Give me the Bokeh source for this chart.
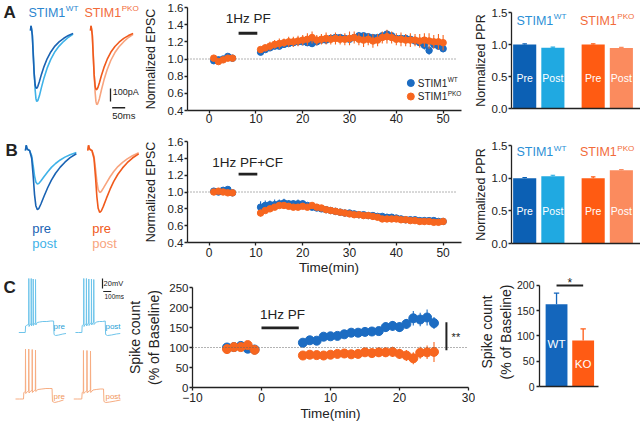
from bokeh.plotting import figure
from bokeh.layouts import row, column
from bokeh.models import Range1d, Label, Span, FixedTicker, PrintfTickFormatter
from bokeh.embed import file_html
from bokeh.resources import INLINE

FONT = "Liberation Sans"
INK = "#222222"
BLUE = "#1c6cc2"
ORANGE = "#f7661f"
WT_PRE = "#0c60b4"
WT_POST = "#20a9e1"
KO_PRE = "#ff5b12"
KO_POST = "#fb8b5e"
TR_BLUE_D = "#1a63b3"
TR_BLUE_L = "#3fb2e8"
TR_OR_D = "#f05a1c"
TR_OR_L = "#f8a47e"

# ======================= DATA =======================
# A: example EPSC traces (ms, pA)
epsc_a_t = [0, 2, 4, 7, 10, 14, 18, 21, 24, 28, 34, 42, 52, 64, 78, 94, 110, 128, 146, 164]
epsc_a_wt_pre = [0, 35, 12, -40, -170, -330, -420, -442, -446, -432, -395, -338, -278, -218, -165, -120, -88, -60, -38, -22]
epsc_a_wt_post = [0, 35, 12, -30, -140, -320, -460, -525, -546, -540, -505, -440, -365, -290, -222, -163, -120, -83, -52, -28]
epsc_a_ko_pre = [0, 35, 12, -40, -175, -340, -430, -452, -456, -442, -404, -346, -284, -223, -168, -123, -90, -61, -39, -22]
epsc_a_ko_post = [0, 35, 12, -32, -150, -335, -480, -548, -571, -563, -527, -458, -380, -302, -231, -170, -125, -86, -54, -29]

# B: example EPSC traces (ms, pA)
epsc_b_t = [0, 3, 6, 10, 16, 24, 30, 35, 40, 46, 52, 60, 72, 86, 100, 116, 134, 152, 172, 196]
epsc_b_wt_pre = [0, 40, 15, 5, 0, -60, -200, -340, -425, -456, -445, -410, -350, -285, -228, -175, -128, -90, -55, -25]
epsc_b_wt_post = [0, 40, 15, 5, 0, -40, -120, -195, -242, -259, -253, -233, -200, -163, -130, -100, -73, -51, -32, -15]
epsc_b_ko_pre = [0, 40, 15, 5, 0, -62, -210, -355, -445, -477, -466, -430, -367, -298, -238, -183, -134, -94, -58, -26]
epsc_b_ko_post = [0, 40, 15, 5, 0, -45, -145, -240, -302, -323, -316, -290, -249, -202, -162, -124, -91, -64, -40, -18]

# A/B: normalized EPSC time course (min)
tc_base_t = [1, 2, 3, 4, 5]
tc_post_t = list(range(11, 51))
a_wt_base = [0.98, 0.99, 1.00, 1.03, 1.01]
a_wt_base_err = [0.02, 0.02, 0.02, 0.02, 0.02]
a_ko_base = [1.01, 0.97, 0.99, 1.01, 1.01]
a_ko_base_err = [0.02, 0.03, 0.02, 0.02, 0.02]
a_wt_post = [1.08, 1.11, 1.13, 1.15, 1.15, 1.17, 1.18, 1.19, 1.20, 1.20,
             1.19, 1.18, 1.20, 1.22, 1.22, 1.24, 1.25, 1.25, 1.24, 1.23,
             1.25, 1.27, 1.27, 1.26, 1.25, 1.25, 1.27, 1.29, 1.27, 1.24,
             1.24, 1.24, 1.23, 1.21, 1.19, 1.16, 1.10, 1.17, 1.15, 1.12]
a_wt_post_err = [0.03, 0.03, 0.03, 0.03, 0.03, 0.03, 0.03, 0.03, 0.03, 0.03,
                 0.03, 0.04, 0.03, 0.03, 0.04, 0.03, 0.03, 0.04, 0.04, 0.03,
                 0.04, 0.04, 0.03, 0.03, 0.04, 0.04, 0.03, 0.04, 0.04, 0.03,
                 0.04, 0.04, 0.03, 0.04, 0.04, 0.05, 0.05, 0.04, 0.04, 0.04]
a_ko_post = [1.11, 1.13, 1.15, 1.17, 1.18, 1.19, 1.20, 1.20, 1.21, 1.22,
             1.23, 1.25, 1.22, 1.23, 1.24, 1.23, 1.24, 1.23, 1.23, 1.24,
             1.25, 1.23, 1.22, 1.23, 1.21, 1.22, 1.25, 1.26, 1.25, 1.23,
             1.23, 1.22, 1.22, 1.22, 1.21, 1.22, 1.21, 1.20, 1.20, 1.19]
a_ko_post_err = [0.03, 0.04, 0.05, 0.05, 0.06, 0.05, 0.06, 0.06, 0.06, 0.06,
                 0.07, 0.07, 0.06, 0.06, 0.07, 0.06, 0.07, 0.06, 0.07, 0.08,
                 0.07, 0.07, 0.08, 0.07, 0.08, 0.07, 0.07, 0.08, 0.07, 0.07,
                 0.08, 0.07, 0.08, 0.07, 0.08, 0.08, 0.09, 0.08, 0.09, 0.09]

b_wt_base = [1.01, 1.00, 1.02, 1.03, 0.99]
b_wt_base_err = [0.02, 0.02, 0.02, 0.02, 0.02]
b_ko_base = [1.00, 1.01, 1.00, 0.99, 0.99]
b_ko_base_err = [0.02, 0.02, 0.02, 0.02, 0.02]
b_wt_post = [0.82, 0.84, 0.85, 0.85, 0.86, 0.87, 0.86, 0.86, 0.86, 0.86,
             0.84, 0.82, 0.81, 0.80, 0.79, 0.78, 0.77, 0.76, 0.75, 0.75,
             0.74, 0.73, 0.73, 0.72, 0.72, 0.71, 0.71, 0.70, 0.70, 0.69,
             0.68, 0.67, 0.67, 0.67, 0.66, 0.66, 0.66, 0.66, 0.65, 0.65]
b_wt_post_err = [0.07, 0.06, 0.05, 0.06, 0.05, 0.05, 0.04, 0.04, 0.05, 0.04,
                 0.03, 0.03, 0.03, 0.03, 0.03, 0.03, 0.03, 0.03, 0.03, 0.03,
                 0.03, 0.02, 0.03, 0.02, 0.03, 0.02, 0.02, 0.02, 0.02, 0.02,
                 0.02, 0.02, 0.02, 0.02, 0.02, 0.02, 0.02, 0.02, 0.02, 0.02]
b_ko_post = [0.75, 0.78, 0.80, 0.82, 0.84, 0.84, 0.83, 0.82, 0.82, 0.83,
             0.82, 0.84, 0.82, 0.81, 0.79, 0.78, 0.77, 0.76, 0.75, 0.74,
             0.73, 0.73, 0.72, 0.72, 0.71, 0.70, 0.68, 0.68, 0.68, 0.68,
             0.67, 0.67, 0.66, 0.66, 0.65, 0.65, 0.65, 0.64, 0.64, 0.65]
b_ko_post_err = [0.04, 0.03, 0.03, 0.03, 0.03, 0.03, 0.03, 0.03, 0.03, 0.03,
                 0.03, 0.02, 0.02, 0.02, 0.02, 0.02, 0.02, 0.02, 0.02, 0.02,
                 0.02, 0.02, 0.02, 0.02, 0.02, 0.02, 0.02, 0.02, 0.02, 0.02,
                 0.02, 0.02, 0.02, 0.02, 0.02, 0.02, 0.02, 0.02, 0.02, 0.02]

# stimulation periods (min)
stim_ab = [6.3, 10.3]
stim_c = [0, 5.4]

# A/B: paired-pulse ratio bars
ppr_sups = ["WT", "PKO"]
ppr_bar_names = ["Pre", "Post", "Pre", "Post"]
ppr_a = [1.00, 0.95, 1.00, 0.945]
ppr_a_err = [0.01, 0.01, 0.01, 0.01]
ppr_b = [1.00, 1.03, 1.00, 1.12]
ppr_b_err = [0.01, 0.015, 0.02, 0.01]

# C: spike traces (ms, mV)
sp_wt_pre_t = [0, 40, 80, 85, 95, 105, 123, 125, 128, 140, 153, 155, 158, 168, 178, 180, 183, 195, 207, 209, 212, 230, 260, 300, 350, 400, 435, 440, 460, 500, 550, 590]
sp_wt_pre_v = [-70, -70, -70, -57, -56, -55, -54, 38, -58, -54, -53, 38, -57, -53, -52, 37, -56, -52, -51, 36, -55, -50, -49, -48, -48, -47, -47, -74, -76, -75, -73, -72]
sp_wt_post_t = [0, 40, 80, 84, 94, 102, 104, 107, 120, 135, 137, 140, 150, 165, 167, 170, 185, 198, 200, 203, 215, 227, 229, 232, 260, 300, 340, 372, 377, 400, 450, 510, 560]
sp_wt_post_v = [-70, -70, -70, -56, -55, -54, 38, -58, -54, -53, 38, -57, -53, -52, 37, -56, -52, -51, 37, -55, -51, -50, 36, -54, -49, -48, -48, -47, -74, -76, -75, -73, -72]
sp_ko_pre_t = [0, 50, 100, 104, 115, 123, 125, 128, 150, 164, 166, 169, 190, 207, 209, 212, 235, 248, 250, 253, 280, 330, 380, 430, 457, 462, 490, 540, 600]
sp_ko_pre_v = [-70, -70, -70, -57, -56, -55, 30, -59, -55, -54, 30, -58, -54, -53, 29, -57, -53, -52, 28, -55, -51, -50, -49, -49, -49, -75, -77, -75, -72]
sp_ko_post_t = [0, 50, 100, 105, 115, 119, 121, 124, 150, 163, 165, 168, 190, 207, 209, 212, 240, 280, 330, 372, 377, 400, 450, 520, 584]
sp_ko_post_v = [-70, -70, -70, -57, -56, -55, 27, -59, -55, -54, 27, -58, -54, -53, 26, -57, -52, -51, -50, -50, -75, -77, -76, -74, -72]

# C: spike count time course (% of baseline)
c_base_t = [-5, -4, -3, -2, -1]
c_post_t = list(range(6, 26))
c_wt_base = [100, 101, 104, 97, 95]
c_wt_base_err = [5, 4, 4, 5, 4]
c_ko_base = [96, 101, 101, 106, 94]
c_ko_base_err = [5, 4, 4, 5, 4]
c_wt_post = [112, 118, 117, 127, 128, 129, 133, 137, 137, 139, 140, 141, 151, 154, 151, 159, 173, 170, 175, 161]
c_wt_post_err = [6, 6, 5, 6, 6, 6, 7, 7, 7, 7, 7, 8, 12, 12, 12, 12, 18, 17, 20, 15]
c_ko_post = [80, 82, 81, 80, 82, 84, 85, 83, 84, 88, 86, 88, 88, 89, 84, 80, 73, 87, 88, 89]
c_ko_post_err = [7, 8, 8, 8, 8, 9, 9, 9, 10, 10, 11, 12, 12, 13, 13, 14, 15, 15, 17, 25]

# C: summary bars
c_bar_names = ["WT", "KO"]
c_bar_vals = [163, 91]
c_bar_err = [22, 23]

tick_norm = [0.4, 0.6, 0.8, 1.0, 1.2, 1.4, 1.6]
tick_time_ab = [0, 10, 20, 30, 40, 50]
tick_ppr = [0.0, 0.5, 1.0, 1.5]
tick_spk = [0, 50, 100, 150, 200, 250]
tick_time_c = [-10, 0, 10, 20, 30]
tick_spk_bar = [0, 50, 100, 150, 200]


# ======================= HELPERS =======================
def _base(w, h, xr, yr, axes):
    kw = {} if axes else dict(x_axis_location=None, y_axis_location=None)
    p = figure(width=w, height=h, x_range=Range1d(*xr), y_range=Range1d(*yr),
               output_backend="svg", toolbar_location=None, **kw)
    p.frame_align = False
    p.min_border = 0
    p.outline_line_color = None
    p.grid.visible = False
    p.background_fill_color = "white"
    p.border_fill_color = "white"
    return p


def trace_fig(w, h, xr, yr):
    p = _base(w, h, xr, yr, False)
    p.min_border_left = 0
    p.min_border_right = 0
    p.min_border_top = 0
    p.min_border_bottom = 0
    return p


def axis_fig(w, h, xr, yr, left, right, top, bottom):
    p = _base(w, h, xr, yr, True)
    p.min_border_left = left
    p.min_border_right = right
    p.min_border_top = top
    p.min_border_bottom = bottom
    for ax in p.axis:
        ax.axis_line_width = 1.3
        ax.axis_line_color = INK
        ax.major_tick_line_color = INK
        ax.major_tick_line_width = 1.3
        ax.major_tick_out = 3
        ax.major_tick_in = 0
        ax.minor_tick_line_color = None
        ax.major_label_text_font = FONT
        ax.major_label_text_color = INK
        ax.major_label_text_font_size = "11.5px"
        ax.axis_label_text_font = FONT
        ax.axis_label_text_font_style = "normal"
        ax.axis_label_text_color = INK
        ax.axis_label_text_font_size = "12.5px"
        ax.axis_label_standoff = 0
    return p


def label(p, x, y, text, size, color=INK, align="left", baseline="middle",
          angle=0.0, style="normal", xo=0, yo=0):
    p.add_layout(Label(x=x, y=y, text=text, text_font=FONT,
                       text_font_size=f"{size}px", text_color=color,
                       text_align=align, text_baseline=baseline, angle=angle,
                       text_font_style=style, x_offset=xo, y_offset=yo))


def stim_title(p, x, y, size, sup, color):
    label(p, x, y, "STIM1", size, color)
    label(p, x, y, sup, round(size * 0.65, 1), color, xo=2.945 * size + 0.5, yo=size * 0.33)


def tc_series(p, t, y, e, color, size):
    lo = [a - b for a, b in zip(y, e)]
    hi = [a + b for a, b in zip(y, e)]
    p.segment(x0=t, y0=lo, x1=t, y1=hi, line_color=color, line_width=1.1)
    p.scatter(x=t, y=y, size=size, marker="circle", fill_color=color, line_color=color)


def shift(ts, off):
    return [t + off for t in ts]


# ======================= ROW A (height 130) =======================
a1 = trace_fig(140, 130, (0, 539), (-770, 231))
for v, c, off in [(epsc_a_wt_post, TR_BLUE_L, 115.5), (epsc_a_wt_pre, TR_BLUE_D, 115.5),
                  (epsc_a_ko_post, TR_OR_L, 346.5), (epsc_a_ko_pre, TR_OR_D, 346.5)]:
    a1.line(shift(epsc_a_t, off), v, line_color=c, line_width=1.6)
label(a1, 11.6, 138.6, "A", 17, style="bold")
stim_title(a1, 107.8, 138.6, 12.5, "WT", "#2b86cf")
stim_title(a1, 323, 138.6, 12.5, "PKO", "#f26b3a")
a1.segment(x0=[423.5], y0=[-446.6], x1=[423.5], y1=[-546.6], line_color=INK, line_width=1.3)
a1.segment(x0=[430], y0=[-595], x1=[480], y1=[-595], line_color=INK, line_width=1.3)
label(a1, 432, -475, "100pA", 9)
label(a1, 430, -654.5, "50ms", 9.5)

A2_X = (-4.615, 55.85)
A2_AXIS_END = 53.9
a2 = axis_fig(330, 130, A2_X, (0.4, 1.6), 47, 0, 7, 20)
a2.xaxis.bounds = (A2_X[0], A2_AXIS_END)
a2.yaxis.ticker = FixedTicker(ticks=tick_norm)
a2.yaxis.formatter = PrintfTickFormatter(format="%.1f")
a2.xaxis.ticker = FixedTicker(ticks=tick_time_ab)
a2.xaxis.major_label_text_font_size = "12px"
a2.xaxis.major_label_standoff = 0
a2.yaxis.major_label_standoff = 1
a2.yaxis.axis_label = "Normalized EPSC"
a2.yaxis.axis_label_standoff = 7
a2.segment(x0=[A2_X[0]], y0=[1.0], x1=[A2_AXIS_END - 1], y1=[1.0], line_dash="1 2", line_color="#666666", line_width=1)
tc_series(a2, tc_base_t, a_wt_base, a_wt_base_err, BLUE, 6.5)
tc_series(a2, tc_post_t, a_wt_post, a_wt_post_err, BLUE, 6.5)
tc_series(a2, tc_base_t, a_ko_base, a_ko_base_err, ORANGE, 6.5)
tc_series(a2, tc_post_t, a_ko_post, a_ko_post_err, ORANGE, 6.5)
a2.segment(x0=[stim_ab[0]], y0=[1.30], x1=[stim_ab[1]], y1=[1.30], line_color=INK, line_width=2.8)
label(a2, 3.57, 1.472, "1Hz PF", 13.5)
a2.scatter(x=[43.1, 43.1], y=[0.720, 0.563], size=7, marker="circle",
           fill_color=[BLUE, ORANGE], line_color=[BLUE, ORANGE])
stim_title(a2, 44.58, 0.720, 10, "WT", INK)
stim_title(a2, 44.58, 0.563, 10, "PKO", INK)

ppr_x = [0, 1, 2.43, 3.43]
ppr_colors = [WT_PRE, WT_POST, KO_PRE, KO_POST]


def ppr_panel(h, top, bottom, vals, errs, ttl_y, name_y):
    p = axis_fig(170, h, (-0.468, 4.109), (0, 1.5), 40, 0, top, bottom)
    p.yaxis.ticker = FixedTicker(ticks=tick_ppr)
    p.yaxis.formatter = PrintfTickFormatter(format="%.1f")
    p.yaxis.major_label_standoff = 1
    p.yaxis.axis_label = "Normalized PPR"
    p.yaxis.axis_label_standoff = 1
    p.xaxis.ticker = FixedTicker(ticks=[])
    p.xaxis.major_tick_line_color = None
    p.vbar(x=ppr_x, top=vals, width=0.82, fill_color=ppr_colors, line_color=None)
    hi = [a + b for a, b in zip(vals, errs)]
    p.segment(x0=ppr_x, y0=vals, x1=ppr_x, y1=hi, line_color=ppr_colors, line_width=1.2)
    p.segment(x0=[x - 0.08 for x in ppr_x], y0=hi, x1=[x + 0.08 for x in ppr_x], y1=hi,
              line_color=ppr_colors, line_width=1.2)
    for x, nm in zip(ppr_x, ppr_bar_names):
        label(p, x, name_y, nm, 10.5, color="white", align="center")
    stim_title(p, ppr_x[0] - 0.292, ttl_y, 12.5, ppr_sups[0], "#2a8fd6")
    stim_title(p, ppr_x[2] - 0.468, ttl_y, 12.5, ppr_sups[1], "#f26b3a")
    return p


a3 = ppr_panel(130, 12, 22, ppr_a, ppr_a_err, 1.375, 0.469)

# ======================= ROW B (height 147) =======================
b1 = trace_fig(140, 147, (0, 539), (-977.9, 154))
for v, c, off in [(epsc_b_wt_post, TR_BLUE_L, 96), (epsc_b_wt_pre, TR_BLUE_D, 96),
                  (epsc_b_ko_post, TR_OR_L, 336), (epsc_b_ko_pre, TR_OR_D, 336)]:
    b1.line(shift(epsc_b_t, off), v, line_color=c, line_width=1.6)
label(b1, 19.25, 0, "B", 17, style="bold")
label(b1, 122, -600.6, "pre", 13, color=TR_BLUE_D)
label(b1, 122, -716, "post", 13, color=TR_BLUE_L)
label(b1, 353, -600.6, "pre", 13, color=TR_OR_D)
label(b1, 353, -716, "post", 13, color=TR_OR_L)

b2 = axis_fig(330, 147, (-4.615, 55.85), (0.4, 1.6), 47, 0, 11, 33)
b2.xaxis.bounds = (-4.615, A2_AXIS_END)
b2.yaxis.ticker = FixedTicker(ticks=tick_norm)
b2.yaxis.formatter = PrintfTickFormatter(format="%.1f")
b2.xaxis.ticker = FixedTicker(ticks=tick_time_ab)
b2.xaxis.major_label_text_font_size = "12px"
b2.xaxis.major_label_standoff = 2
b2.xaxis.axis_label = "Time(min)"
b2.xaxis.axis_label_text_font_size = "13.5px"
b2.yaxis.major_label_standoff = 1
b2.yaxis.axis_label = "Normalized EPSC"
b2.yaxis.axis_label_standoff = 7
b2.segment(x0=[-4.615], y0=[1.0], x1=[A2_AXIS_END - 1], y1=[1.0], line_dash="1 2", line_color="#666666", line_width=1)
tc_series(b2, tc_base_t, b_wt_base, b_wt_base_err, BLUE, 6.5)
tc_series(b2, tc_post_t, b_wt_post, b_wt_post_err, BLUE, 6.5)
tc_series(b2, tc_base_t, b_ko_base, b_ko_base_err, ORANGE, 6.5)
tc_series(b2, tc_post_t, b_ko_post, b_ko_post_err, ORANGE, 6.5)
b2.segment(x0=[stim_ab[0]], y0=[1.212], x1=[stim_ab[1]], y1=[1.212], line_color=INK, line_width=2.8)
label(b2, 0.665, 1.355, "1Hz PF+CF", 13.5)

b3 = ppr_panel(147, 15, 34, ppr_b, ppr_b_err, 1.393, 0.505)

# ======================= ROW C (height 147) =======================
c1 = trace_fig(124, 147, (0, 1550), (-254, 40))
CB = "#6ec4ea"
CO = "#f7ad82"
KO_SHIFT = -133
c1.line(shift(sp_wt_pre_t, 229), sp_wt_pre_v, line_color=CB, line_width=1)
c1.line(shift(sp_wt_post_t, 937), sp_wt_post_v, line_color=CB, line_width=1)
c1.line(shift(sp_ko_pre_t, 187.5), [v + KO_SHIFT for v in sp_ko_pre_v], line_color=CO, line_width=1)
c1.line(shift(sp_ko_post_t, 916), [v + KO_SHIFT for v in sp_ko_post_v], line_color=CO, line_width=1)
label(c1, 37.5, 21, "C", 17, style="bold")
label(c1, 662, -57.4, "pre", 8, color="#2a9fd6")
label(c1, 1312, -57.4, "post", 8, color="#2a9fd6")
label(c1, 662, -197, "pre", 8, color="#f0955a")
label(c1, 1312, -197, "post", 8, color="#f0955a")
c1.segment(x0=[1275], y0=[38], x1=[1275], y1=[18], line_color=INK, line_width=1.2)
c1.segment(x0=[1284], y0=[12], x1=[1384], y1=[12], line_color=INK, line_width=1.2)
label(c1, 1288, 28, "20mV", 7.5)
label(c1, 1300, 2, "100ms", 6.5)

c2 = axis_fig(351, 147, (-10, 30), (0, 250), 62, 7, 10, 37)
c2.yaxis.ticker = FixedTicker(ticks=tick_spk)
c2.xaxis.ticker = FixedTicker(ticks=tick_time_c)
c2.xaxis.major_label_text_font_size = "12px"
c2.xaxis.major_label_standoff = 2
c2.xaxis.axis_label = "Time(min)"
c2.xaxis.axis_label_text_font_size = "13.5px"
c2.xaxis.axis_label_standoff = 1
c2.yaxis.major_label_standoff = 1
c2.yaxis.axis_label = "Spike count\n(% of Baseline)"
c2.yaxis.axis_label_text_font_size = "14px"
c2.yaxis.axis_label_standoff = 4
c2.add_layout(Span(location=100, dimension="width", line_dash="1 2", line_color="#666666", line_width=1))
tc_series(c2, c_base_t, c_wt_base, c_wt_base_err, BLUE, 9)
tc_series(c2, c_post_t, c_wt_post, c_wt_post_err, BLUE, 9)
tc_series(c2, c_base_t, c_ko_base, c_ko_base_err, ORANGE, 9)
tc_series(c2, c_post_t, c_ko_post, c_ko_post_err, ORANGE, 9)
c2.segment(x0=[stim_c[0]], y0=[149], x1=[stim_c[1]], y1=[149], line_color=INK, line_width=2.8)
label(c2, -0.22, 182.5, "1Hz PF", 13.5)
c2.segment(x0=[26.8], y0=[93], x1=[26.8], y1=[163], line_color=INK, line_width=2)
label(c2, 27.55, 125.7, "**", 11)

c3 = axis_fig(165, 147, (-0.640, 1.576), (0, 215.8), 58, 42, 0, 38)
c3.yaxis.ticker = FixedTicker(ticks=tick_spk_bar)
c3.yaxis.bounds = (0, 200)
c3.yaxis.major_label_text_font_size = "10.5px"
c3.yaxis.major_label_standoff = 2
c3.yaxis.axis_label = "Spike count\n(% of Baseline)"
c3.yaxis.axis_label_text_font_size = "14px"
c3.yaxis.axis_label_standoff = 0
c3.xaxis.ticker = FixedTicker(ticks=[])
c3.xaxis.major_tick_line_color = None
c_x = [0, 1]
c_cols = ["#1466bc", "#ff5b14"]
c3.vbar(x=c_x, top=c_bar_vals, width=0.82, fill_color=c_cols, line_color=None)
c_hi = [a + b for a, b in zip(c_bar_vals, c_bar_err)]
c3.segment(x0=c_x, y0=c_bar_vals, x1=c_x, y1=c_hi, line_color=c_cols, line_width=1.3)
c3.segment(x0=[x - 0.1 for x in c_x], y0=c_hi, x1=[x + 0.1 for x in c_x], y1=c_hi, line_color=c_cols, line_width=1.3)
c3.segment(x0=[c_x[0]], y0=[200], x1=[c_x[1]], y1=[200], line_color=INK, line_width=2)
label(c3, 0.5, 204, "*", 12, align="center")
label(c3, 0, 85, c_bar_names[0], 11.5, color="white", align="center")
label(c3, 1, 45.5, c_bar_names[1], 11.5, color="white", align="center")

layout = column(row(a1, a2, a3), row(b1, b2, b3), row(c1, c2, c3))

with open("out.html", "w") as f:
    f.write(file_html(layout, INLINE))
